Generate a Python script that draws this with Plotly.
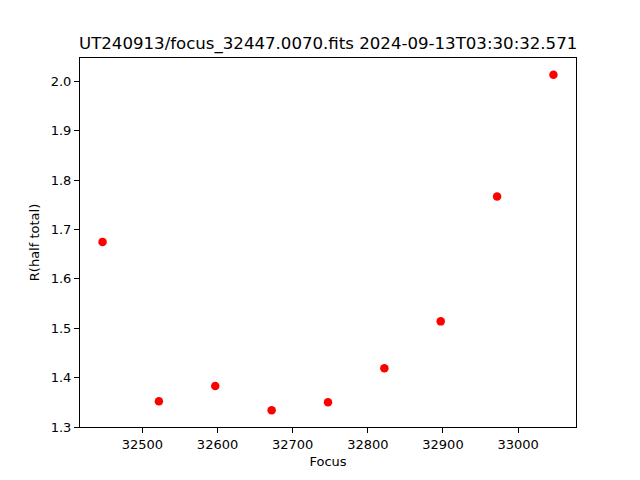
import plotly.graph_objects as go

focus = [32447, 32522, 32597, 32672, 32747, 32822, 32897, 32972, 33047]
r_half = [1.675, 1.352, 1.383, 1.334, 1.350, 1.419, 1.514, 1.767, 2.0135]
title = "UT240913/focus_32447.0070.fits 2024-09-13T03:30:32.571"
x_ticks = [32500, 32600, 32700, 32800, 32900, 33000]
y_ticks = [1.3, 1.4, 1.5, 1.6, 1.7, 1.8, 1.9, 2.0]

def padded(vals):
    lo, hi = min(vals), max(vals)
    m = (hi - lo) * 0.05
    return [lo - m, hi + m]

fig = go.Figure(go.Scatter(x=focus, y=r_half, mode="markers",
                           marker=dict(color="red", size=8.5)))

font = dict(family="DejaVu Sans", color="black", size=13)
axis_common = dict(showgrid=False, zeroline=False, showline=True, linecolor="black",
                   linewidth=1, mirror=True, ticks="outside", ticklen=5,
                   tickcolor="black", tickfont=font)
fig.update_layout(
    width=640, height=480,
    margin=dict(l=72, r=72, t=50, b=61),
    plot_bgcolor="white", paper_bgcolor="white",
    showlegend=False,
    font=font,
    xaxis=dict(range=padded(focus), tickvals=x_ticks, ticktext=[str(v) for v in x_ticks],
               title=dict(text="Focus", font=font, standoff=6), **axis_common),
    yaxis=dict(range=padded(r_half), tickvals=y_ticks, ticktext=[f"{v:.1f}" for v in y_ticks],
               title=dict(text="R(half total)", font=font, standoff=8), **axis_common),
    annotations=[dict(text=title, x=0.5, y=1, xref="paper", yref="paper",
                      xanchor="center", yanchor="bottom", yshift=2, showarrow=False,
                      font=dict(family="DejaVu Sans", size=16.6, color="black"))],
)
fig.write_html("out.html")
